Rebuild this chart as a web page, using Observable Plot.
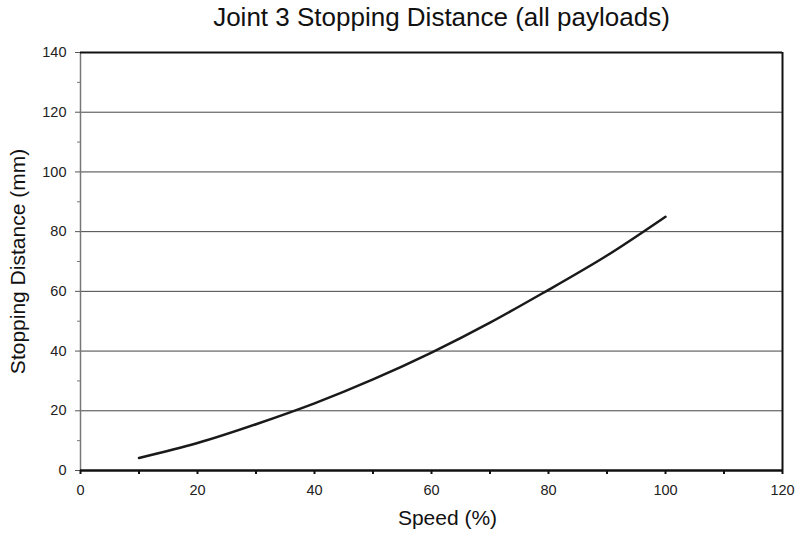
<!DOCTYPE html>
<html>
<head>
<meta charset="utf-8">
<script src="https://cdn.jsdelivr.net/npm/d3@7"></script>
<script src="https://cdn.jsdelivr.net/npm/@observablehq/plot@0.6"></script>
<style>
  html, body { margin: 0; padding: 0; background: #fff; }
  #title { width: 795px; height: 40px; box-sizing: border-box; padding: 4px 0 0 88px; text-align: center;
    font-family: "Liberation Sans", Arial, sans-serif; font-size: 26px; line-height: 26px; color: #111; }
</style>
</head>
<body>
<div id="title">Joint 3 Stopping Distance (all payloads)</div>
<div id="chart"></div>
<script>
const speed = [10, 20, 30, 40, 50, 60, 70, 80, 90, 100];
const distance = [4.2, 9.2, 15.5, 22.5, 30.5, 39.5, 49.5, 60.5, 72, 85];
const xTickLabels = [0, 20, 40, 60, 80, 100, 120];
const xMinorTicks = [10, 30, 50, 70, 90, 110];
const yTickLabels = [0, 20, 40, 60, 80, 100, 120, 140];
const yMinorTicks = [10, 30, 50, 70, 90, 110, 130];
const gridY = [20, 40, 60, 80, 100, 120];
const xLabel = "Speed (%)";
const yLabel = "Stopping Distance (mm)";

const data = speed.map((s, i) => ({speed: s, distance: distance[i]}));

const chart = Plot.plot({
  width: 795,
  height: 498,
  marginTop: 12,
  marginBottom: 68,
  marginLeft: 80,
  marginRight: 13,
  style: {fontFamily: "'Liberation Sans', Arial, sans-serif", color: "#222", background: "#fff"},
  x: {domain: [0, 120]},
  y: {domain: [0, 140]},
  marks: [
    Plot.ruleY(gridY, {stroke: "#444", strokeWidth: 1}),
    Plot.ruleX([0], {stroke: "#777", strokeWidth: 1.5}),
    Plot.ruleX([120], {stroke: "#111", strokeWidth: 2}),
    Plot.ruleY([140], {stroke: "#111", strokeWidth: 2}),
    Plot.line(data, {x: "speed", y: "distance", stroke: "#1a1a1a", strokeWidth: 2.5, curve: "natural"}),
    Plot.ruleY([0], {stroke: "#111", strokeWidth: 2.5}),
    Plot.axisY({ticks: yTickLabels, tickSize: 5, tickPadding: 9, fontSize: 14.5, label: null, stroke: "#555"}),
    Plot.axisY({ticks: yMinorTicks, tickSize: 3, text: null, label: null, stroke: "#777"}),
    Plot.axisX({ticks: xTickLabels, tickSize: 4, tickPadding: 10, fontSize: 14.5, label: null, strokeWidth: 2, stroke: "#111"}),
    Plot.axisX({ticks: xMinorTicks, tickSize: 4, text: null, label: null, strokeWidth: 2, stroke: "#111"}),
    Plot.text([xLabel], {frameAnchor: "bottom", dy: 54, dx: 16, fontSize: 21, fill: "#111", textAnchor: "middle"}),
    Plot.text([yLabel], {frameAnchor: "left", dx: -62, rotate: -90, fontSize: 21, fill: "#111", textAnchor: "middle"})
  ]
});
document.getElementById("chart").appendChild(chart);
</script>
</body>
</html>
